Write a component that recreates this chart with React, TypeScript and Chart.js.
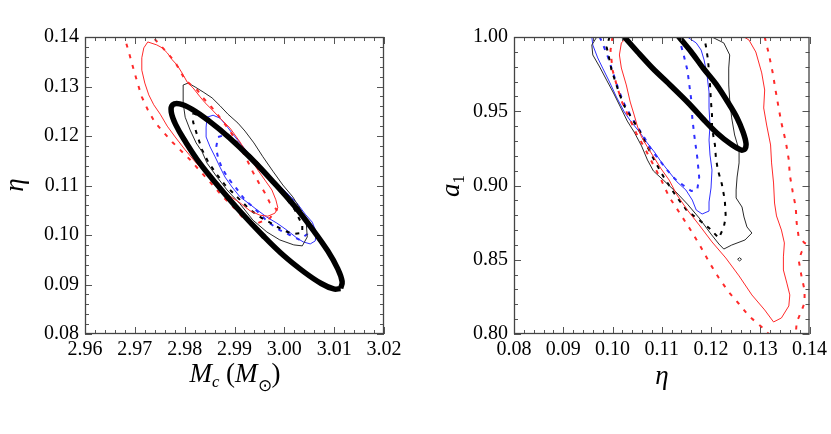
import React, { useEffect, useRef } from "react";
import { Chart, registerables } from "chart.js";

Chart.register(...registerables);

type P = [number, number];

// ---------- axis ticks ----------
const LEFT_X_TICKS = [2.96, 2.97, 2.98, 2.99, 3.0, 3.01, 3.02];
const LEFT_Y_TICKS = [0.08, 0.09, 0.1, 0.11, 0.12, 0.13, 0.14];
const RIGHT_X_TICKS = [0.08, 0.09, 0.1, 0.11, 0.12, 0.13, 0.14];
const RIGHT_Y_TICKS = [0.8, 0.85, 0.9, 0.95, 1.0];

// ---------- left panel (Mc, eta) ----------
const LEFT_FISHER: P[] = [
  [3.0113, 0.0892], [3.0116, 0.0906], [3.0107, 0.0932], [3.0087, 0.0968], [3.0057, 0.1011],
  [3.002, 0.1059], [2.9977, 0.1108], [2.9933, 0.1155], [2.9889, 0.1197], [2.9848, 0.1231],
  [2.9815, 0.1254], [2.979, 0.1265], [2.9776, 0.1263], [2.9773, 0.1249], [2.9782, 0.1223],
  [2.9802, 0.1188], [2.9831, 0.1144], [2.9869, 0.1097], [2.9911, 0.1048], [2.9956, 0.1],
  [2.9998, 0.0959], [3.004, 0.0925], [3.0074, 0.0902], [3.0099, 0.0891], [3.0113, 0.0892],
];

const LEFT_RED_SOLID: P[] = [
  [2.9726, 0.139], [2.9744, 0.1384], [2.9755, 0.1378], [2.9765, 0.1368], [2.9775, 0.1354],
  [2.9785, 0.1343], [2.9795, 0.1327], [2.9805, 0.1309], [2.9817, 0.1297], [2.9831, 0.1279],
  [2.9841, 0.1267], [2.9855, 0.1253], [2.9871, 0.1236], [2.9891, 0.1216], [2.9911, 0.1188],
  [2.9931, 0.1156], [2.9947, 0.1131], [2.9961, 0.1111], [2.9975, 0.1091], [2.9983, 0.1071],
  [2.9987, 0.1055], [2.9981, 0.1044], [2.9967, 0.1038], [2.9951, 0.104], [2.9931, 0.1049],
  [2.9911, 0.1065], [2.9887, 0.1081], [2.9861, 0.1105], [2.9841, 0.1127], [2.9821, 0.1148],
  [2.9801, 0.1172], [2.9781, 0.1198], [2.9765, 0.122], [2.9751, 0.1244], [2.9738, 0.1263],
  [2.9728, 0.1283], [2.972, 0.1307], [2.9714, 0.1333], [2.9714, 0.1358], [2.9718, 0.1378],
  [2.9726, 0.139],
];

const LEFT_RED_DOTTED: P[] = [
  [2.9678, 0.1408], [2.9682, 0.139], [2.969, 0.1362], [2.9698, 0.1333], [2.9706, 0.1305],
  [2.9714, 0.1279], [2.9726, 0.1253], [2.974, 0.1228], [2.9757, 0.1208], [2.9775, 0.1188],
  [2.9791, 0.1172], [2.9811, 0.1152], [2.9831, 0.1129], [2.9851, 0.1107], [2.9875, 0.1079],
  [2.9901, 0.1053], [2.9923, 0.1028], [2.9947, 0.1024], [2.9971, 0.1034], [2.9985, 0.1051],
  [2.9971, 0.1065], [2.9961, 0.1085], [2.9949, 0.1105], [2.9937, 0.1127], [2.9925, 0.1152],
  [2.9911, 0.1178], [2.9891, 0.121], [2.9875, 0.1232], [2.9855, 0.1257], [2.9837, 0.1277],
  [2.9825, 0.1293], [2.9801, 0.1313], [2.9781, 0.1349], [2.9765, 0.1368], [2.9736, 0.14],
  [2.9726, 0.1414],
];

const LEFT_BLACK_SOLID: P[] = [
  [2.9797, 0.1303], [2.9807, 0.1307], [2.9821, 0.1299], [2.9837, 0.1289], [2.9855, 0.1277],
  [2.9871, 0.1261], [2.9887, 0.1244], [2.9907, 0.1226], [2.9921, 0.121], [2.9939, 0.1186],
  [2.9957, 0.1158], [2.9977, 0.1129], [2.9997, 0.1101], [3.0017, 0.1077], [3.0033, 0.1051],
  [3.0044, 0.1024], [3.0046, 0.0996], [3.0036, 0.0978], [3.0019, 0.098], [2.9991, 0.099],
  [2.9965, 0.1006], [2.9937, 0.103], [2.9911, 0.1063], [2.9885, 0.1091], [2.9865, 0.1117],
  [2.9845, 0.1145], [2.9835, 0.1168], [2.9823, 0.1186], [2.9811, 0.1212], [2.9801, 0.1238],
  [2.9797, 0.1267], [2.9797, 0.1293], [2.9797, 0.1303],
];

const LEFT_BLACK_DASHED: P[] = [
  [2.9817, 0.1246], [2.9841, 0.1236], [2.9871, 0.1216], [2.9911, 0.1182], [2.9951, 0.1141],
  [2.9991, 0.1091], [3.0021, 0.1051], [3.0036, 0.102], [3.0036, 0.1004], [3.0017, 0.1002],
  [2.9997, 0.101], [2.9977, 0.1022], [2.9955, 0.1034], [2.9931, 0.1051], [2.9907, 0.1075],
  [2.9881, 0.1101], [2.9861, 0.1127], [2.9847, 0.1148], [2.9835, 0.1172], [2.9825, 0.1202],
  [2.9817, 0.1228], [2.9817, 0.1246],
];

const LEFT_BLUE_SOLID: P[] = [
  [2.9845, 0.1238], [2.9857, 0.1242], [2.9871, 0.1236], [2.9883, 0.1222], [2.9895, 0.1206],
  [2.9911, 0.1186], [2.9927, 0.1166], [2.9945, 0.1145], [2.9965, 0.1125], [2.9985, 0.1105],
  [3.0005, 0.1085], [3.0025, 0.1065], [3.0042, 0.1042], [3.0056, 0.1026], [3.0064, 0.1006],
  [3.0062, 0.0988], [3.0052, 0.0982], [3.0038, 0.0986], [3.0025, 0.0994], [3.0005, 0.101],
  [2.9985, 0.1024], [2.9965, 0.1036], [2.9945, 0.1051], [2.9927, 0.1065], [2.9911, 0.1077],
  [2.9895, 0.1097], [2.9881, 0.1117], [2.9871, 0.1137], [2.9861, 0.1158], [2.9851, 0.1178],
  [2.9843, 0.1198], [2.9843, 0.1218], [2.9845, 0.1238],
];

const LEFT_BLUE_DASHED: P[] = [
  [2.9867, 0.1198], [2.9881, 0.1202], [2.9901, 0.1186], [2.9921, 0.1166], [2.9943, 0.1141],
  [2.9965, 0.1117], [2.9991, 0.1095], [3.0015, 0.1071], [3.0036, 0.1044], [3.005, 0.102],
  [3.0046, 0.1002], [3.0031, 0.099], [3.0011, 0.1], [2.9991, 0.101], [2.9967, 0.1026],
  [2.9943, 0.1051], [2.9921, 0.1071], [2.9903, 0.1095], [2.9887, 0.1115], [2.9875, 0.1135],
  [2.9867, 0.1156], [2.9863, 0.1176], [2.9867, 0.1198],
];

// ---------- right panel (eta, a1) ----------
const RIGHT_FISHER: P[] = [
  [0.1016, 1.003], [0.1024, 1.0], [0.1051, 0.9899], [0.1081, 0.9791], [0.1119, 0.967],
  [0.1156, 0.9549], [0.1186, 0.9441], [0.1212, 0.9354], [0.124, 0.9279], [0.1261, 0.9239],
  [0.1269, 0.9246], [0.1271, 0.9286], [0.1265, 0.936], [0.1253, 0.9455], [0.1234, 0.9562],
  [0.121, 0.9684], [0.1184, 0.9791], [0.116, 0.9899], [0.1135, 1.0], [0.1128, 1.003],
];

const RIGHT_BLACK_SOLID: P[] = [
  [0.0968, 1.0], [0.0958, 0.9946], [0.096, 0.9879], [0.0974, 0.9798], [0.0988, 0.971],
  [0.1002, 0.9623], [0.1016, 0.9529], [0.103, 0.9434], [0.1044, 0.936], [0.1059, 0.9266],
  [0.1071, 0.9172], [0.1083, 0.9098], [0.1103, 0.9037], [0.1129, 0.8956], [0.1152, 0.8875],
  [0.1176, 0.8781], [0.12, 0.8673], [0.1216, 0.8606], [0.1226, 0.8572], [0.1242, 0.8599],
  [0.1269, 0.8633], [0.1283, 0.868], [0.1273, 0.8721], [0.1267, 0.8788], [0.1263, 0.8855],
  [0.1251, 0.8916], [0.1251, 0.897], [0.1253, 0.9057], [0.1257, 0.9152], [0.1257, 0.9239],
  [0.1248, 0.934], [0.1242, 0.9455], [0.1238, 0.9576], [0.1236, 0.9677], [0.1236, 0.9791],
  [0.1238, 0.9879], [0.1226, 0.996], [0.1202, 1.0],
];

const RIGHT_BLACK_ISLAND: P[] = [
  [0.1262, 0.8503], [0.1258, 0.8514], [0.1254, 0.8503], [0.1258, 0.8492], [0.1262, 0.8503],
];

const RIGHT_BLACK_DASHED: P[] = [
  [0.0994, 1.0], [0.0988, 0.9933], [0.0994, 0.9845], [0.0998, 0.9778], [0.1006, 0.9697],
  [0.1014, 0.9616], [0.1024, 0.9535], [0.104, 0.9448], [0.1055, 0.9367], [0.1069, 0.9273],
  [0.1087, 0.9158], [0.1105, 0.9051], [0.1129, 0.8929], [0.1152, 0.8828], [0.1176, 0.8768],
  [0.1196, 0.8714], [0.1216, 0.8646], [0.1226, 0.8721], [0.123, 0.8788], [0.1228, 0.8902],
  [0.1222, 0.901], [0.1214, 0.9104], [0.121, 0.9185], [0.1208, 0.9273], [0.1202, 0.9387],
  [0.1202, 0.9475], [0.12, 0.9562], [0.1198, 0.9677], [0.1196, 0.9758], [0.1194, 0.9845],
  [0.119, 0.9933], [0.1186, 1.0],
];

const RIGHT_BLUE_SOLID: P[] = [
  [0.0958, 1.0], [0.096, 0.9946], [0.097, 0.9859], [0.098, 0.9791], [0.0994, 0.9697],
  [0.1008, 0.9596], [0.1024, 0.9495], [0.1038, 0.9428], [0.1055, 0.936], [0.1069, 0.9293],
  [0.1085, 0.9226], [0.1099, 0.9158], [0.1115, 0.9091], [0.1131, 0.9024], [0.1149, 0.897],
  [0.1162, 0.8902], [0.117, 0.8835], [0.1182, 0.8808], [0.1196, 0.8828], [0.1196, 0.8889],
  [0.12, 0.8983], [0.1202, 0.9104], [0.1198, 0.9205], [0.1196, 0.9306], [0.1198, 0.9407],
  [0.1196, 0.9522], [0.1196, 0.963], [0.1192, 0.9744], [0.1186, 0.9845], [0.118, 0.9912],
  [0.117, 0.996], [0.1152, 1.0],
];

const RIGHT_BLUE_DASHED: P[] = [
  [0.0974, 1.0], [0.0982, 0.9939], [0.099, 0.9872], [0.0998, 0.9791], [0.1006, 0.971],
  [0.1014, 0.963], [0.1024, 0.9549], [0.1036, 0.9475], [0.1051, 0.9394], [0.1065, 0.932],
  [0.1079, 0.9239], [0.1095, 0.9172], [0.1111, 0.9104], [0.1127, 0.9044], [0.1143, 0.9003],
  [0.116, 0.8963], [0.1172, 0.897], [0.1176, 0.9057], [0.1172, 0.9192], [0.1166, 0.934],
  [0.1162, 0.9455], [0.116, 0.9576], [0.1156, 0.9677], [0.1152, 0.9778], [0.1145, 0.9872],
  [0.1139, 0.9946], [0.1135, 1.0],
];

const RIGHT_RED_SOLID: P[] = [
  [0.103, 1.0], [0.1018, 0.996], [0.1014, 0.9879], [0.1018, 0.9791], [0.1028, 0.9677],
  [0.1036, 0.9562], [0.1044, 0.9475], [0.1051, 0.9394], [0.1059, 0.9327], [0.1071, 0.9259],
  [0.1085, 0.9185], [0.1099, 0.9111], [0.1115, 0.9037], [0.1131, 0.8936], [0.1152, 0.8835],
  [0.1176, 0.8734], [0.1202, 0.862], [0.123, 0.8512], [0.1257, 0.8391], [0.1283, 0.8263],
  [0.1309, 0.8162], [0.1327, 0.8081], [0.1343, 0.8108], [0.1358, 0.8189], [0.136, 0.8263],
  [0.1354, 0.8343], [0.1347, 0.8431], [0.1347, 0.8519], [0.1349, 0.8613], [0.1343, 0.87],
  [0.1333, 0.8795], [0.1329, 0.8882], [0.1327, 0.9017], [0.1323, 0.9152], [0.1321, 0.9273],
  [0.1313, 0.9407], [0.1307, 0.9522], [0.1309, 0.9643], [0.1303, 0.9758], [0.1291, 0.9899],
  [0.1277, 0.998], [0.1267, 1.0],
];

const RIGHT_RED_DOTTED_LEFT: P[] = [
  [0.1, 1.0], [0.0996, 0.9912], [0.1, 0.9778], [0.101, 0.9657], [0.102, 0.9556],
  [0.1034, 0.9455], [0.1048, 0.9354], [0.1065, 0.9253], [0.1081, 0.9152], [0.1099, 0.9037],
  [0.1115, 0.8923], [0.1135, 0.8822], [0.1156, 0.8714], [0.1176, 0.8606], [0.1196, 0.8485],
  [0.1216, 0.8377], [0.1236, 0.8283], [0.1257, 0.8202], [0.1277, 0.8121], [0.1291, 0.8081],
  [0.1303, 0.8047], [0.1317, 0.8], [0.1321, 0.7973],
];

const RIGHT_RED_DOTTED_RIGHT: P[] = [
  [0.1309, 1.0], [0.1317, 0.9892], [0.1325, 0.9764], [0.1331, 0.9643], [0.1337, 0.9529],
  [0.1343, 0.9421], [0.1352, 0.9293], [0.1358, 0.9172], [0.136, 0.9071], [0.1366, 0.8956],
  [0.1372, 0.8855], [0.1374, 0.8747], [0.1378, 0.8653], [0.139, 0.8613], [0.1402, 0.8599],
  [0.1402, 0.8566], [0.1384, 0.8552], [0.1378, 0.8498], [0.1384, 0.8384], [0.139, 0.8296],
  [0.139, 0.8209], [0.1382, 0.8141], [0.1374, 0.8081], [0.1372, 0.7993], [0.1372, 0.7973],
];

// ---------- styling helpers ----------
const SERIF = '"Liberation Serif", "Times New Roman", serif';
const RED = "#ff2a2a";
const BLUE = "#2f2fff";
const DARK = "#2a2a2a";

function ds(pts: P[], color: string, width: number, dash: number[] = [], order = 1, tension = 0) {
  return {
    data: pts.map(([x, y]) => ({ x, y })),
    showLine: true,
    borderColor: color,
    backgroundColor: color,
    borderWidth: width,
    borderDash: dash,
    borderJoinStyle: "round",
    borderCapStyle: "butt",
    pointRadius: 0,
    pointHoverRadius: 0,
    fill: false,
    tension,
    order,
  };
}

const frameTicks = {
  id: "frameTicks",
  afterDatasetsDraw(chart: any, _args: any, opts: any) {
    const { ctx, chartArea: a, scales } = chart;
    const xs = scales.x;
    const ys = scales.y;
    ctx.save();
    ctx.strokeStyle = "#555";
    ctx.lineWidth = 1;
    ctx.setLineDash([]);
    const line = (x1: number, y1: number, x2: number, y2: number) => {
      ctx.beginPath();
      ctx.moveTo(x1, y1);
      ctx.lineTo(x2, y2);
      ctx.stroke();
    };
    const dx = (v: number, len: number) => {
      const p = Math.round(xs.getPixelForValue(v)) + 0.5;
      line(p, a.bottom, p, a.bottom - len);
      line(p, a.top, p, a.top + len);
    };
    const dy = (v: number, len: number) => {
      const p = Math.round(ys.getPixelForValue(v)) + 0.5;
      line(a.left, p, a.left + len, p);
      line(a.right, p, a.right - len, p);
    };
    const xt: number[] = opts.xTicks;
    const yt: number[] = opts.yTicks;
    for (let i = 0; i < xt.length; i++) {
      dx(xt[i], 7);
      if (i < xt.length - 1)
        for (let k = 1; k < opts.xSub; k++) dx(xt[i] + ((xt[i + 1] - xt[i]) * k) / opts.xSub, 4);
    }
    for (let i = 0; i < yt.length; i++) {
      dy(yt[i], 7);
      if (i < yt.length - 1)
        for (let k = 1; k < opts.ySub; k++) dy(yt[i] + ((yt[i + 1] - yt[i]) * k) / opts.ySub, 4);
    }
    ctx.lineWidth = 1.3;
    ctx.strokeStyle = "#444";
    ctx.strokeRect(a.left + 0.5, a.top + 0.5, a.right - a.left - 1, a.bottom - a.top - 1);
    ctx.restore();
  },
};

function makeConfig(o: {
  datasets: any[];
  xTicks: number[];
  yTicks: number[];
  xSub: number;
  ySub: number;
  yWidth: number;
  padRight: number;
}): any {
  const font = { family: SERIF, size: 20 };
  return {
    type: "scatter",
    data: { datasets: o.datasets },
    options: {
      responsive: false,
      animation: false,
      events: [],
      layout: { padding: { top: 37, right: o.padRight, left: 0, bottom: 0 } },
      plugins: {
        legend: { display: false },
        tooltip: { enabled: false },
        frameTicks: { xTicks: o.xTicks, yTicks: o.yTicks, xSub: o.xSub, ySub: o.ySub },
      },
      scales: {
        x: {
          type: "linear",
          min: o.xTicks[0],
          max: o.xTicks[o.xTicks.length - 1],
          grid: { display: false, drawTicks: false },
          border: { display: false },
          afterBuildTicks: (s: any) => {
            s.ticks = o.xTicks.map((v) => ({ value: v }));
          },
          afterFit: (s: any) => {
            s.height = 100;
          },
          ticks: {
            padding: 4,
            font,
            color: "#000",
            maxRotation: 0,
            autoSkip: false,
            callback: (v: any) => Number(v).toFixed(2),
          },
        },
        y: {
          type: "linear",
          min: o.yTicks[0],
          max: o.yTicks[o.yTicks.length - 1],
          grid: { display: false, drawTicks: false },
          border: { display: false },
          afterBuildTicks: (s: any) => {
            s.ticks = o.yTicks.map((v) => ({ value: v }));
          },
          afterFit: (s: any) => {
            s.width = o.yWidth;
          },
          ticks: {
            padding: 6,
            font,
            color: "#000",
            autoSkip: false,
            callback: (v: any) => Number(v).toFixed(2),
          },
        },
      },
    },
    plugins: [frameTicks],
  };
}

const titleBase: React.CSSProperties = {
  position: "absolute",
  fontFamily: SERIF,
  fontSize: 27,
  lineHeight: "30px",
  color: "#000",
  whiteSpace: "nowrap",
};

export default function App() {
  const leftRef = useRef<HTMLCanvasElement>(null);
  const rightRef = useRef<HTMLCanvasElement>(null);

  useEffect(() => {
    const left = new Chart(
      leftRef.current as HTMLCanvasElement,
      makeConfig({
        datasets: [
          ds(LEFT_FISHER, "#000", 5.5, [], 0, 0.4),
          ds(LEFT_RED_DOTTED, RED, 2, [4, 7]),
          ds(LEFT_RED_SOLID, RED, 1),
          ds(LEFT_BLACK_SOLID, DARK, 1),
          ds(LEFT_BLACK_DASHED, "#000", 2, [4, 6]),
          ds(LEFT_BLUE_SOLID, BLUE, 1),
          ds(LEFT_BLUE_DASHED, BLUE, 2, [4, 6]),
        ],
        xTicks: LEFT_X_TICKS,
        yTicks: LEFT_Y_TICKS,
        xSub: 5,
        ySub: 5,
        yWidth: 85,
        padRight: 31,
      })
    );
    const right = new Chart(
      rightRef.current as HTMLCanvasElement,
      makeConfig({
        datasets: [
          ds(RIGHT_FISHER, "#000", 5.5, [], 0, 0.3),
          ds(RIGHT_RED_DOTTED_LEFT, RED, 2, [4, 7]),
          ds(RIGHT_RED_DOTTED_RIGHT, RED, 2, [4, 7]),
          ds(RIGHT_RED_SOLID, RED, 1),
          ds(RIGHT_BLACK_SOLID, DARK, 1),
          ds(RIGHT_BLACK_ISLAND, DARK, 1),
          ds(RIGHT_BLACK_DASHED, "#000", 2, [4, 6]),
          ds(RIGHT_BLUE_SOLID, BLUE, 1),
          ds(RIGHT_BLUE_DASHED, BLUE, 2, [4, 6]),
        ],
        xTicks: RIGHT_X_TICKS,
        yTicks: RIGHT_Y_TICKS,
        xSub: 5,
        ySub: 5,
        yWidth: 99,
        padRight: 20,
      })
    );
    return () => {
      left.destroy();
      right.destroy();
    };
  }, []);

  return (
    <div
      style={{
        position: "fixed",
        left: 0,
        top: 0,
        width: 831,
        height: 434,
        background: "#fff",
        overflow: "hidden",
      }}
    >
      <canvas
        ref={leftRef}
        width={415}
        height={434}
        style={{ position: "absolute", left: 0, top: 0, width: 415, height: 434 }}
      />
      <canvas
        ref={rightRef}
        width={416}
        height={434}
        style={{ position: "absolute", left: 415, top: 0, width: 416, height: 434 }}
      />
      {/* x-axis titles */}
      <div style={{ ...titleBase, left: 135, width: 200, top: 358, textAlign: "center" }}>
        <i>M</i>
        <sub style={{ fontSize: "62%", verticalAlign: "-0.3em" }}>
          <i>c</i>
        </sub>{" "}
        (<i>M</i>
        <sub style={{ fontSize: "62%", verticalAlign: "-0.55em" }}>⊙</sub>)
      </div>
      <div style={{ ...titleBase, left: 612, width: 100, top: 360, textAlign: "center" }}>
        <i>η</i>
      </div>
      {/* y-axis titles (rotated) */}
      <div
        style={{
          ...titleBase,
          left: 14 - 40,
          top: 185 - 15,
          width: 80,
          height: 30,
          textAlign: "center",
          transform: "rotate(-90deg)",
        }}
      >
        <i>η</i>
      </div>
      <div
        style={{
          ...titleBase,
          left: 450 - 40,
          top: 186 - 15,
          width: 80,
          height: 30,
          textAlign: "center",
          transform: "rotate(-90deg)",
        }}
      >
        <i>a</i>
        <sub style={{ fontSize: "62%", verticalAlign: "-0.3em" }}>1</sub>
      </div>
    </div>
  );
}
